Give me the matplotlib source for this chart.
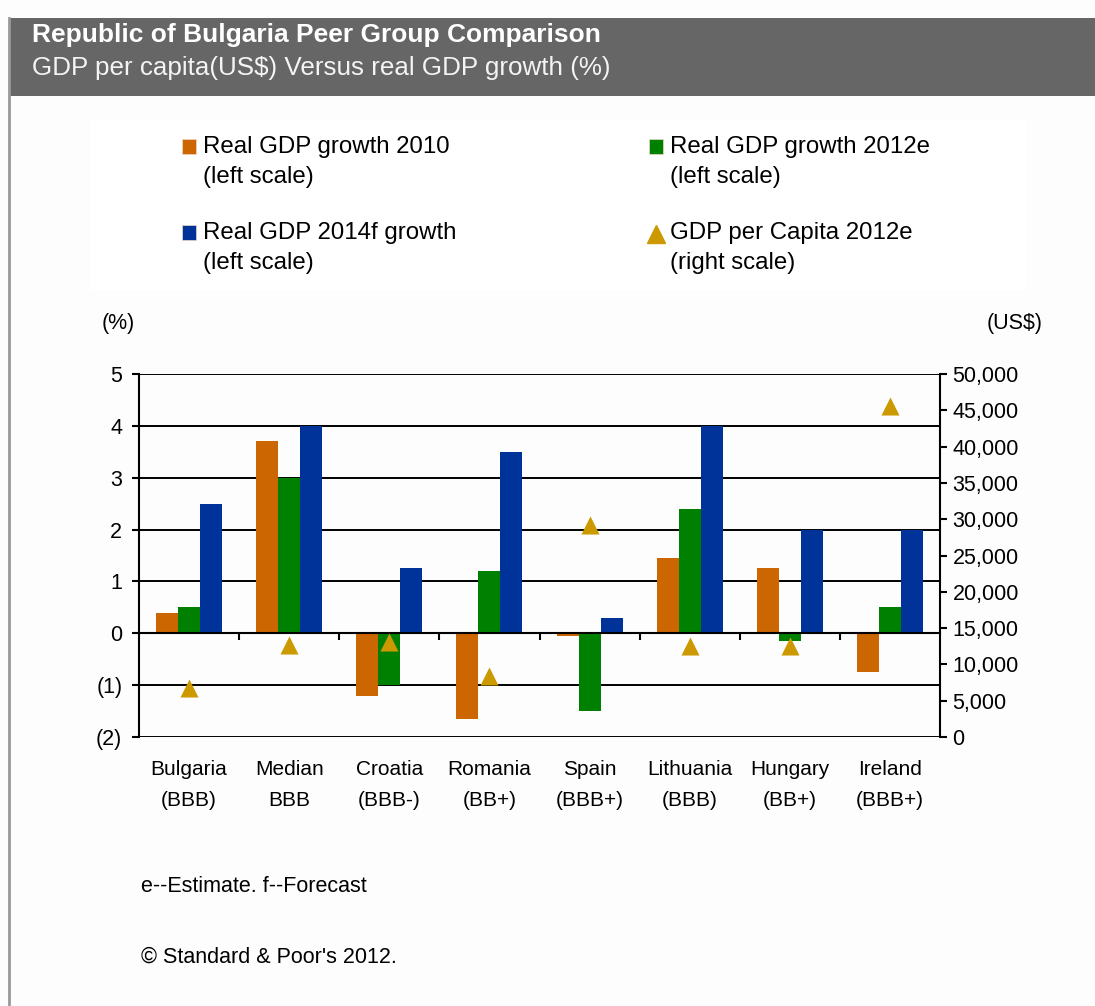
import matplotlib.pyplot as plt
from matplotlib.patches import Rectangle
from matplotlib.ticker import FixedLocator, FuncFormatter

plt.rcParams['font.family'] = ['Liberation Sans', 'DejaVu Sans']

# Peer group data
COUNTRIES = ["Bulgaria", "Median", "Croatia", "Romania", "Spain",
             "Lithuania", "Hungary", "Ireland"]
RATINGS = ["(BBB)", "BBB", "(BBB-)", "(BB+)", "(BBB+)", "(BBB)", "(BB+)", "(BBB+)"]
GROWTH_2010 = [0.4, 3.7, -1.2, -1.65, -0.05, 1.45, 1.25, -0.75]
GROWTH_2012E = [0.5, 3.0, -1.0, 1.2, -1.5, 2.4, -0.15, 0.5]
GROWTH_2014F = [2.5, 4.0, 1.25, 3.5, 0.3, 4.0, 2.0, 2.0]
GDP_PER_CAPITA = [6800, 12700, 13100, 8400, 29200, 12600, 12600, 45600]

LEFT_TICKS = [-2, -1, 0, 1, 2, 3, 4, 5]
RIGHT_TICKS = list(range(0, 50001, 5000))

ORANGE = "#CC6600"
GREEN = "#008000"
BLUE = "#003399"
GOLD = "#CC9900"

W, H = 1095, 1006
fig = plt.figure(figsize=(W / 100, H / 100), dpi=100)
fig.patch.set_facecolor("#fdfdfd")

# Overlay in pixel units for the header, legend and notes
bg = fig.add_axes([0, 0, 1, 1])
bg.set_xlim(0, W)
bg.set_ylim(H, 0)
bg.axis("off")
bg.set_zorder(0)

bg.add_patch(Rectangle((9, 18), W - 9, 78, facecolor="#666666", edgecolor="none"))
bg.plot([9, 9], [18, H], color="#999999", lw=2)
bg.text(32, 35, "Republic of Bulgaria Peer Group Comparison", color="white",
        fontsize=19, fontweight="bold", va="center", ha="left")
bg.text(32, 68, "GDP per capita(US$) Versus real GDP growth (%)", color="#f4f4f4",
        fontsize=18.7, va="center", ha="left")

# Legend box
bg.add_patch(Rectangle((91, 119), 935, 171, facecolor="white", edgecolor="none"))
LEG_FS = 17.3
entries = [
    (182, 147, "Real GDP growth 2010", ORANGE, "s"),
    (649, 147, "Real GDP growth 2012e", GREEN, "s"),
    (182, 233, "Real GDP 2014f growth", BLUE, "s"),
    (649, 233, "GDP per Capita 2012e", GOLD, "^"),
]
for x, y, label, color, kind in entries:
    if kind == "s":
        bg.add_patch(Rectangle((x, y - 8), 14, 15, facecolor=color,
                               edgecolor="#f0d8c0", lw=0.5))
    else:
        bg.plot(x + 7, y + 1, marker="^", color=GOLD, markersize=13, ls="none")
    bg.text(x + 21, y, label, fontsize=LEG_FS, va="center", ha="left")
    sub = "(right scale)" if kind == "^" else "(left scale)"
    bg.text(x + 21, y + 30, sub, fontsize=LEG_FS, va="center", ha="left")

bg.text(118, 323, "(%)", fontsize=15.5, va="center", ha="center")
bg.text(1015, 323, "(US$)", fontsize=15.5, va="center", ha="center")
bg.text(141, 886, "e--Estimate. f--Forecast", fontsize=15.5, va="center", ha="left")
bg.text(141, 957, "\u00a9 Standard & Poor's 2012.", fontsize=15.5, va="center", ha="left")

# Main chart
ax = fig.add_axes([139 / W, 1 - 737 / H, 801 / W, 363 / H])
ax.set_zorder(2)
ax.patch.set_visible(False)

x = list(range(len(COUNTRIES)))
bw = 0.22
ax.bar([i - bw for i in x], GROWTH_2010, bw, color=ORANGE, zorder=2)
ax.bar(x, GROWTH_2012E, bw, color=GREEN, zorder=2)
ax.bar([i + bw for i in x], GROWTH_2014F, bw, color=BLUE, zorder=2)

ax.set_xlim(-0.5, len(COUNTRIES) - 0.5)
ax.set_ylim(-2, 5)
ax.set_yticks(LEFT_TICKS)
ax.yaxis.set_major_formatter(FuncFormatter(
    lambda v, p: "(%d)" % abs(v) if v < 0 else "%d" % v))
ax.yaxis.grid(True, color="black", lw=1.4)
ax.set_axisbelow(True)

for side in ("top", "right"):
    ax.spines[side].set_visible(False)
ax.spines["left"].set_linewidth(1.5)
ax.spines["bottom"].set_position(("data", 0))
ax.spines["bottom"].set_linewidth(1.5)
ax.spines["bottom"].set_zorder(3)

ax.set_xticks(x)
ax.set_xticklabels([c + "\n" + r for c, r in zip(COUNTRIES, RATINGS)])
ax.xaxis.set_minor_locator(FixedLocator([i + 0.5 for i in x[:-1]]))
ax.tick_params(axis="x", which="major", length=0, pad=91.5, labelsize=15)
ax.tick_params(axis="x", which="minor", length=5, width=1.5, direction="out")
for t in ax.get_xticklabels():
    t.set_linespacing(1.75)
ax.tick_params(axis="y", length=5, width=1.5, direction="out", pad=7, labelsize=15.5)

# Right scale: GDP per capita
ax2 = ax.twinx()
ax2.scatter(x, GDP_PER_CAPITA, marker="^", s=13 ** 2, color=GOLD,
            linewidths=0, zorder=5)
ax2.set_ylim(0, 50000)
ax2.set_yticks(RIGHT_TICKS)
ax2.yaxis.set_major_formatter(FuncFormatter(lambda v, p: "{:,}".format(int(v))))
ax2.tick_params(axis="y", length=5, width=1.5, direction="out", pad=4, labelsize=15.5)
for side in ("top", "left", "bottom"):
    ax2.spines[side].set_visible(False)
ax2.spines["right"].set_linewidth(1.5)

fig.savefig("out.png", dpi=100, facecolor=fig.get_facecolor())
